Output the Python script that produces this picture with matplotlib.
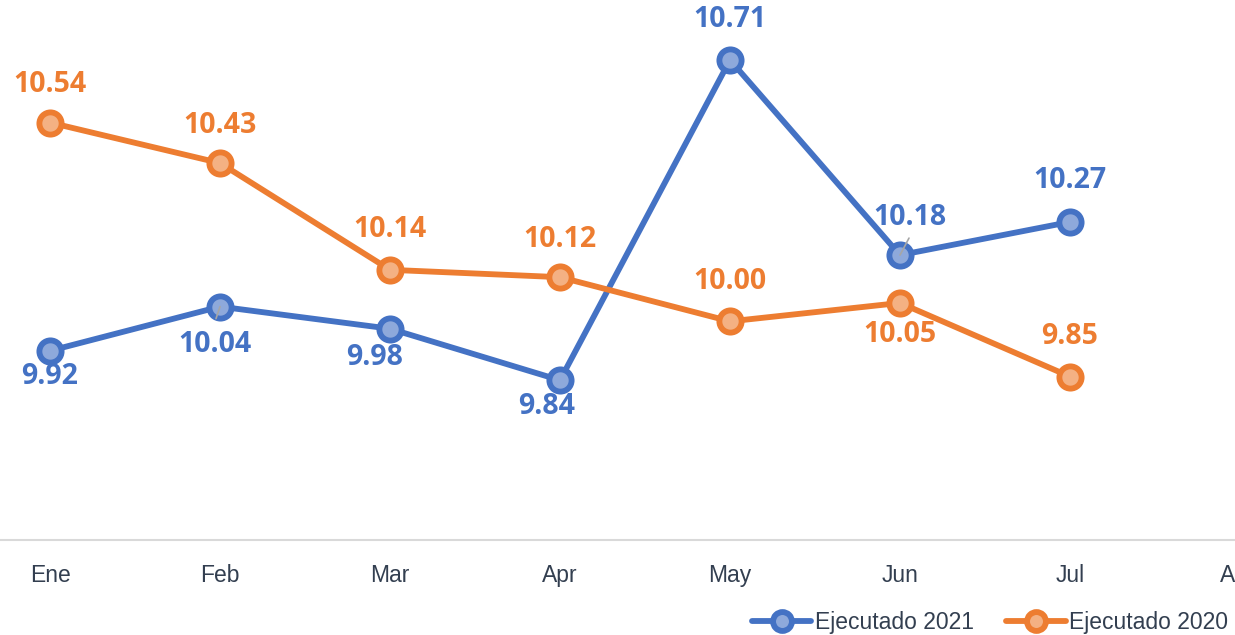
import matplotlib
matplotlib.use("Agg")
import matplotlib.pyplot as plt

months = ["Ene", "Feb", "Mar", "Apr", "May", "Jun", "Jul", "Ago"]
ejec_2021 = [9.92, 10.04, 9.98, 9.84, 10.71, 10.18, 10.27]
ejec_2020 = [10.54, 10.43, 10.14, 10.12, 10.00, 10.05, 9.85]

# label offsets in pixels (dx, dy) for each point
off_2021 = [(0, -26), (-5, -38), (-15, -29), (-13, -26), (0, 40), (10, 38), (0, 41)]
off_2020 = [(0, 38), (0, 38), (0, 40), (0, 38), (0, 40), (0, -32), (0, 40)]

blue, blue_fill = "#4472C4", "#8EA9DB"
orange, orange_fill = "#ED7D31", "#F4B183"
txt_col = "#333F50"

fig = plt.figure(figsize=(12.35, 6.35), dpi=100)
ax = fig.add_axes([0, 95 / 635, 1243.4 / 1235, 540 / 635])

x = list(range(len(ejec_2021)))
common = dict(lw=4.2, marker="o", markersize=16, markeredgewidth=4.2,
              solid_capstyle="round", zorder=3)
l1, = ax.plot(x, ejec_2021, color=blue, markerfacecolor=blue_fill,
              markeredgecolor=blue, label="Ejecutado 2021", **common)
l2, = ax.plot(x, ejec_2020, color=orange, markerfacecolor=orange_fill,
              markeredgecolor=orange, label="Ejecutado 2020", **common)

lab_font = dict(fontsize=20.5, fontweight="bold", family="Open Sans",
                ha="center", va="center")
for xi, v, (dx, dy) in zip(x, ejec_2021, off_2021):
    ax.annotate(f"{v:.2f}", (xi, v), xytext=(dx, dy), textcoords="offset pixels",
                color=blue, zorder=5, **lab_font)
for xi, v, (dx, dy) in zip(x, ejec_2020, off_2020):
    ax.annotate(f"{v:.2f}", (xi, v), xytext=(dx, dy), textcoords="offset pixels",
                color=orange, zorder=5, **lab_font)

# small leader lines
ax.annotate("", (5, ejec_2021[5]), xytext=(9, 17), textcoords="offset pixels",
            arrowprops=dict(arrowstyle="-", color="#A6A6A6", lw=1.2,
                            shrinkA=0, shrinkB=0), zorder=4)
ax.annotate("", (1, ejec_2021[1]), xytext=(-4, -12), textcoords="offset pixels",
            arrowprops=dict(arrowstyle="-", color="#A6A6A6", lw=1.2,
                            shrinkA=0, shrinkB=0), zorder=4)

ax.set_xlim(-50 / 170, 7.02)
ax.set_ylim(9.406, 10.873)
ax.set_xticks(range(len(months)))
ax.set_xticklabels(months, fontsize=16.5, color=txt_col, family="Liberation Sans")
ax.tick_params(axis="x", length=0, pad=17)
ax.set_yticks([])
for s in ["top", "left", "right"]:
    ax.spines[s].set_visible(False)
ax.spines["bottom"].set_color("#D9D9D9")
ax.spines["bottom"].set_linewidth(1.5)

fig.legend(handles=[l1, l2], loc="center right", bbox_to_anchor=(1.011, 0.019),
           frameon=False, ncol=2, handlelength=2.6, handletextpad=0.15,
           columnspacing=1.4, markerscale=0.85,
           prop=dict(family="Liberation Sans", size=16.5), labelcolor=txt_col)

fig.savefig("out.png", dpi=100)
